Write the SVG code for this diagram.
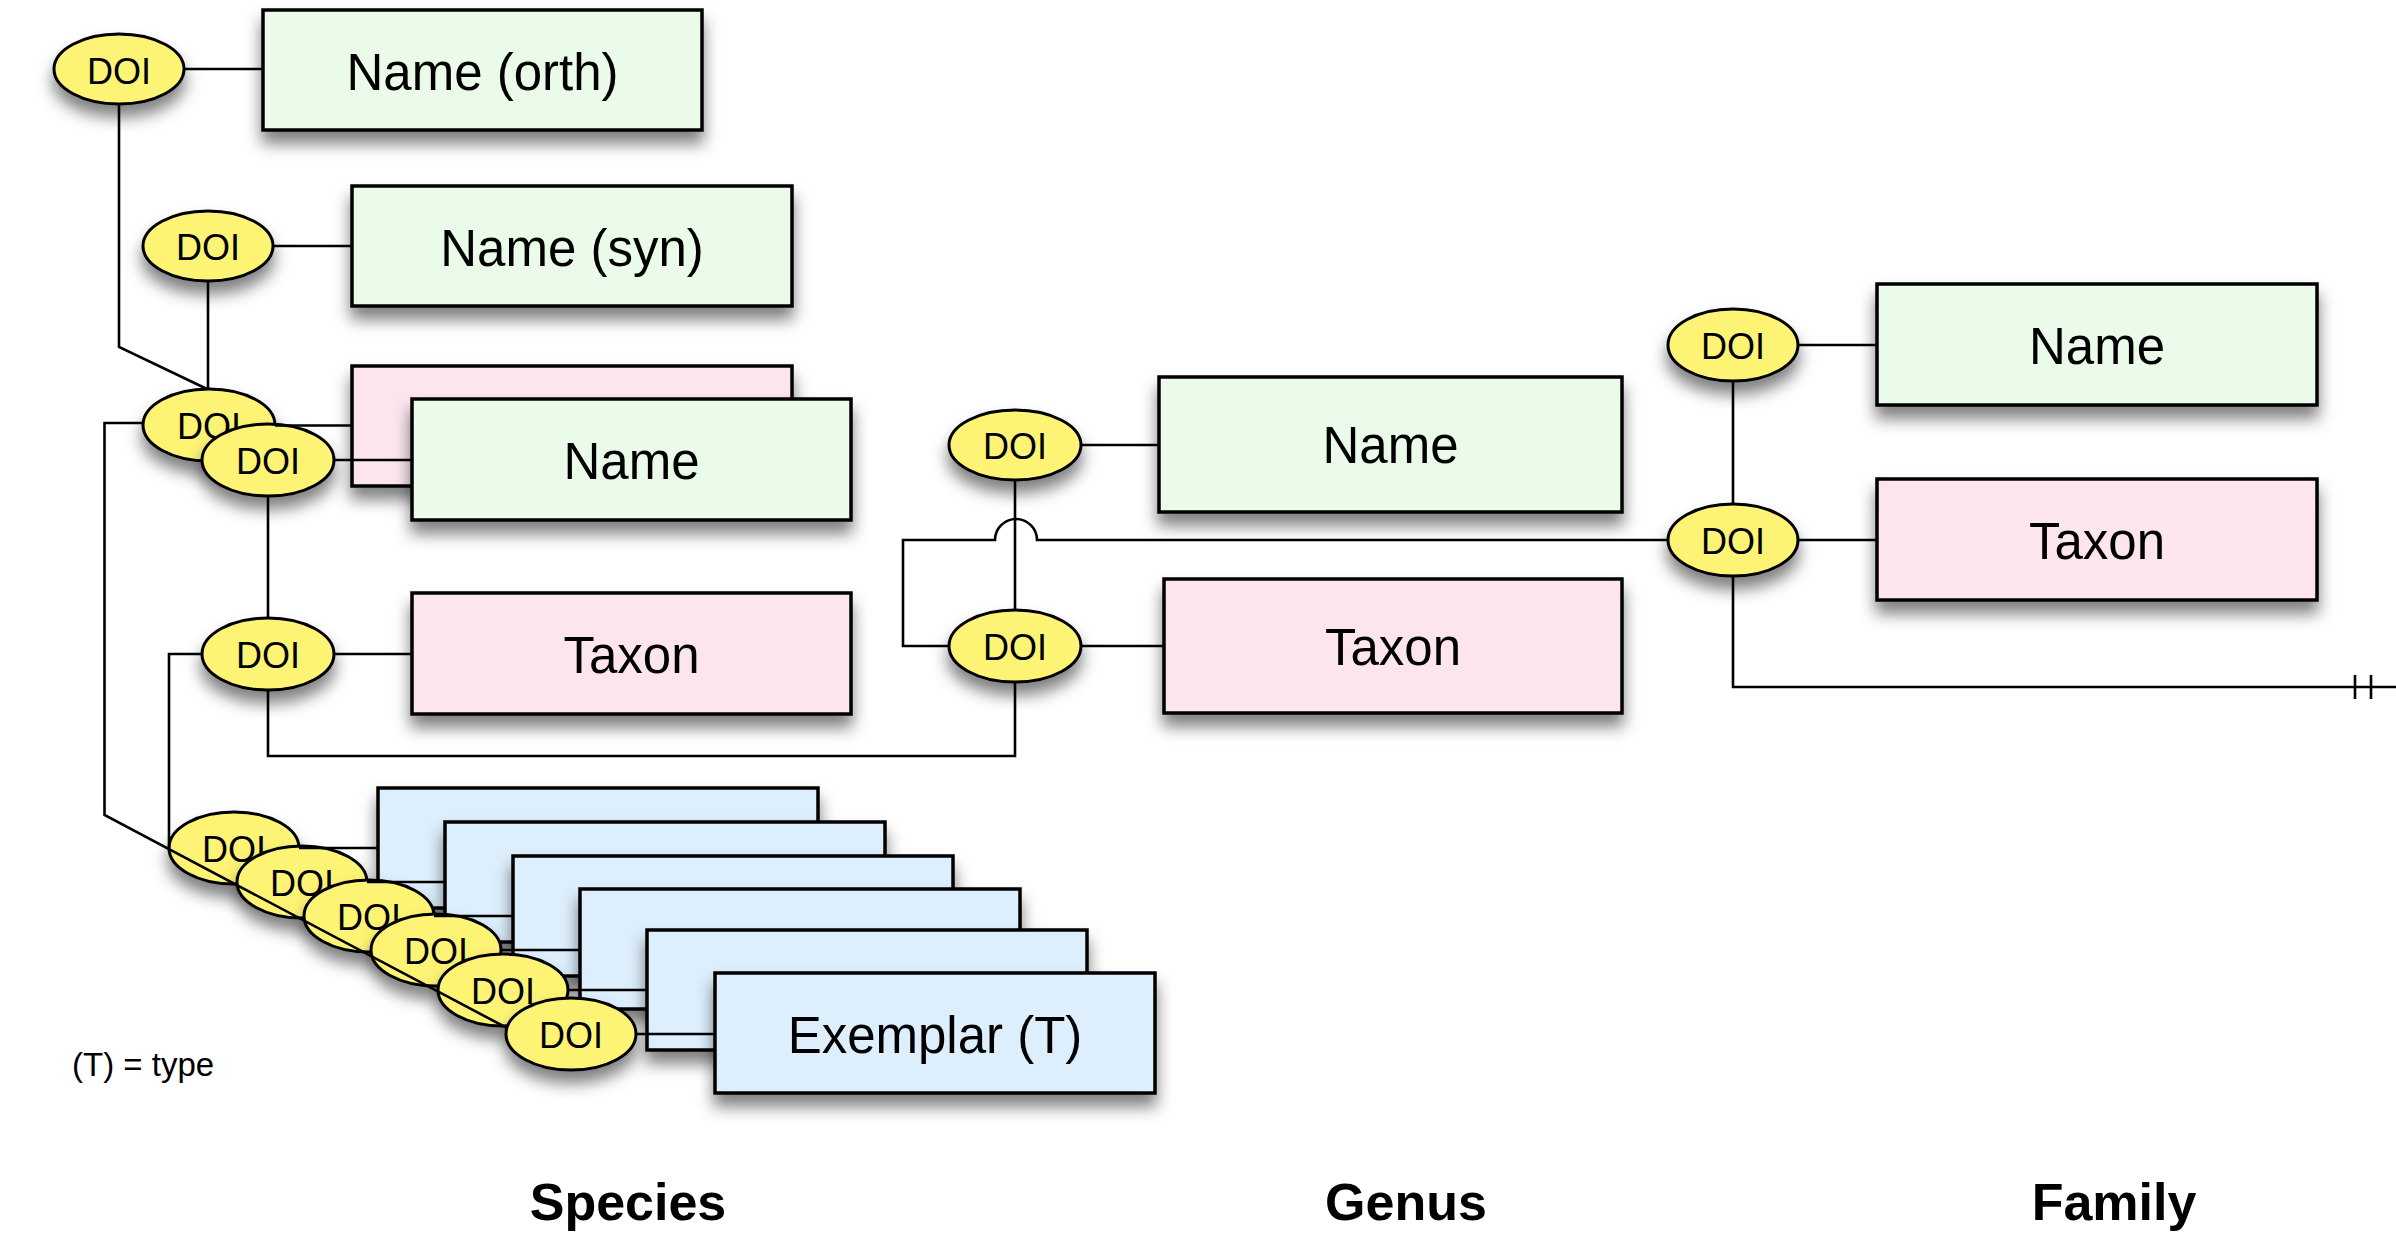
<svg xmlns="http://www.w3.org/2000/svg" width="2396" height="1240" viewBox="0 0 2396 1240">
<defs>
<filter id="sh" x="-20%" y="-20%" width="140%" height="160%">
<feDropShadow dx="0" dy="12" stdDeviation="8" flood-color="#000" flood-opacity="0.5"/>
</filter>
<style>
.box{stroke:#000;stroke-width:3.5;filter:url(#sh)}
.g{fill:#EAFBE9}.p{fill:#FDE5EE}.b{fill:#DDEEFC}
.doi{fill:#FDF475;stroke:#000;stroke-width:3;filter:url(#sh)}
.dt{font-family:"Liberation Sans",Arial,sans-serif;font-size:36px;text-anchor:middle;fill:#000}
.bt{font-family:"Liberation Sans",Arial,sans-serif;font-size:51px;text-anchor:middle;fill:#000}
.lab{font-family:"Liberation Sans",Arial,sans-serif;font-size:52px;font-weight:bold;text-anchor:middle;fill:#000}
.note{font-family:"Liberation Sans",Arial,sans-serif;font-size:33px;fill:#000}
.c{fill:none;stroke:#000;stroke-width:2.6}
</style>
</defs>
<rect width="2396" height="1240" fill="#fff"/>

<!-- Species -->
<g id="sp-name-orth"><rect class="box g" x="263" y="10" width="439" height="120"/><text class="bt" x="482.5" y="90">Name (orth)</text></g>
<g id="sp-doi-orth"><ellipse class="doi" cx="119" cy="69" rx="65" ry="35"/><text class="dt" x="119" y="84">DOI</text></g>
<g id="sp-name-syn"><rect class="box g" x="352" y="186" width="440" height="120"/><text class="bt" x="572" y="266">Name (syn)</text></g>
<g id="sp-doi-syn"><ellipse class="doi" cx="208" cy="246" rx="65" ry="35"/><text class="dt" x="208" y="260">DOI</text></g>
<g id="sp-taxon-back"><rect class="box p" x="352" y="366" width="440" height="120"/></g>
<g id="sp-doi-back"><ellipse class="doi" cx="209" cy="425" rx="66" ry="36"/><text class="dt" x="209" y="439">DOI</text></g>
<g id="sp-name"><rect class="box g" x="412" y="399" width="439" height="121"/><text class="bt" x="631.5" y="479">Name</text></g>
<g id="sp-doi-name"><ellipse class="doi" cx="268" cy="460" rx="66" ry="36"/><text class="dt" x="268" y="474">DOI</text></g>
<g id="sp-taxon"><rect class="box p" x="412" y="593" width="439" height="121"/><text class="bt" x="631.5" y="673">Taxon</text></g>
<g id="sp-doi-taxon"><ellipse class="doi" cx="268" cy="654" rx="66" ry="36"/><text class="dt" x="268" y="668">DOI</text></g>

<g id="ex-box-1"><rect class="box b" x="378" y="788" width="440" height="120"/></g>
<g id="ex-box-2"><rect class="box b" x="445" y="822" width="440" height="120"/></g>
<g id="ex-box-3"><rect class="box b" x="513" y="856" width="440" height="120"/></g>
<g id="ex-box-4"><rect class="box b" x="580" y="889" width="440" height="120"/></g>
<g id="ex-box-5"><rect class="box b" x="647" y="930" width="440" height="120"/></g>
<g id="ex-box-6"><rect class="box b" x="715" y="973" width="440" height="120"/><text class="bt" x="935" y="1053">Exemplar (T)</text></g>

<g id="ex-doi-1"><ellipse class="doi" cx="234" cy="848" rx="65" ry="36"/><text class="dt" x="234" y="862">DOI</text></g>
<g id="ex-doi-2"><ellipse class="doi" cx="302" cy="882" rx="65" ry="36"/><text class="dt" x="302" y="896">DOI</text></g>
<g id="ex-doi-3"><ellipse class="doi" cx="369" cy="916" rx="65" ry="36"/><text class="dt" x="369" y="930">DOI</text></g>
<g id="ex-doi-4"><ellipse class="doi" cx="436" cy="950" rx="65" ry="36"/><text class="dt" x="436" y="964">DOI</text></g>
<g id="ex-doi-5"><ellipse class="doi" cx="503" cy="990" rx="65" ry="36"/><text class="dt" x="503" y="1004">DOI</text></g>
<g id="ex-doi-6"><ellipse class="doi" cx="571" cy="1034" rx="65" ry="36"/><text class="dt" x="571" y="1048">DOI</text></g>

<!-- Genus -->
<g id="ge-name"><rect class="box g" x="1159" y="377" width="463" height="135"/><text class="bt" x="1390.5" y="463">Name</text></g>
<g id="ge-doi-name"><ellipse class="doi" cx="1015" cy="445" rx="66" ry="35"/><text class="dt" x="1015" y="459">DOI</text></g>
<g id="ge-taxon"><rect class="box p" x="1164" y="579" width="458" height="134"/><text class="bt" x="1393" y="665">Taxon</text></g>
<g id="ge-doi-taxon"><ellipse class="doi" cx="1015" cy="646" rx="66" ry="36"/><text class="dt" x="1015" y="660">DOI</text></g>

<!-- Family -->
<g id="fa-name"><rect class="box g" x="1877" y="284" width="440" height="121"/><text class="bt" x="2097" y="364">Name</text></g>
<g id="fa-doi-name"><ellipse class="doi" cx="1733" cy="345" rx="65" ry="36"/><text class="dt" x="1733" y="359">DOI</text></g>
<g id="fa-taxon"><rect class="box p" x="1877" y="479" width="440" height="121"/><text class="bt" x="2097" y="559">Taxon</text></g>
<g id="fa-doi-taxon"><ellipse class="doi" cx="1733" cy="540" rx="65" ry="36"/><text class="dt" x="1733" y="554">DOI</text></g>

<g id="connectors">
<path class="c" d="M184,69H263"/>
<path class="c" d="M119,104V347L207,389"/>
<path class="c" d="M273,246H352"/>
<path class="c" d="M208,281V389"/>
<path class="c" d="M275,425.5H352"/>
<path class="c" d="M334,460H412"/>
<path class="c" d="M268,496V618"/>
<path class="c" d="M334,654H412"/>
<path class="c" d="M143,423H104.5V815L507,1028"/>
<path class="c" d="M202,654H169V848"/>
<path class="c" d="M268,690V756H1015V682"/>
<path class="c" d="M299,848H378"/>
<path class="c" d="M367,882H445"/>
<path class="c" d="M434,916H513"/>
<path class="c" d="M501,950H580"/>
<path class="c" d="M568,990H647"/>
<path class="c" d="M636,1034H715"/>
<path class="c" d="M1081,445H1159"/>
<path class="c" d="M1081,646H1164"/>
<path class="c" d="M1015,480V610"/>
<path class="c" d="M1668,540H1037A21,21 0 0 0 995,540H903V646H949"/>
<path class="c" d="M1798,345H1877"/>
<path class="c" d="M1798,540H1877"/>
<path class="c" d="M1733,381V504"/>
<path class="c" d="M1733,576V687H2396"/>
<path class="c" d="M2355,675V699M2371,675V699"/>
</g>

<text class="note" x="72" y="1076">(T) = type</text>
<text class="lab" x="628" y="1220">Species</text>
<text class="lab" x="1406" y="1220">Genus</text>
<text class="lab" x="2114" y="1220">Family</text>
</svg>
